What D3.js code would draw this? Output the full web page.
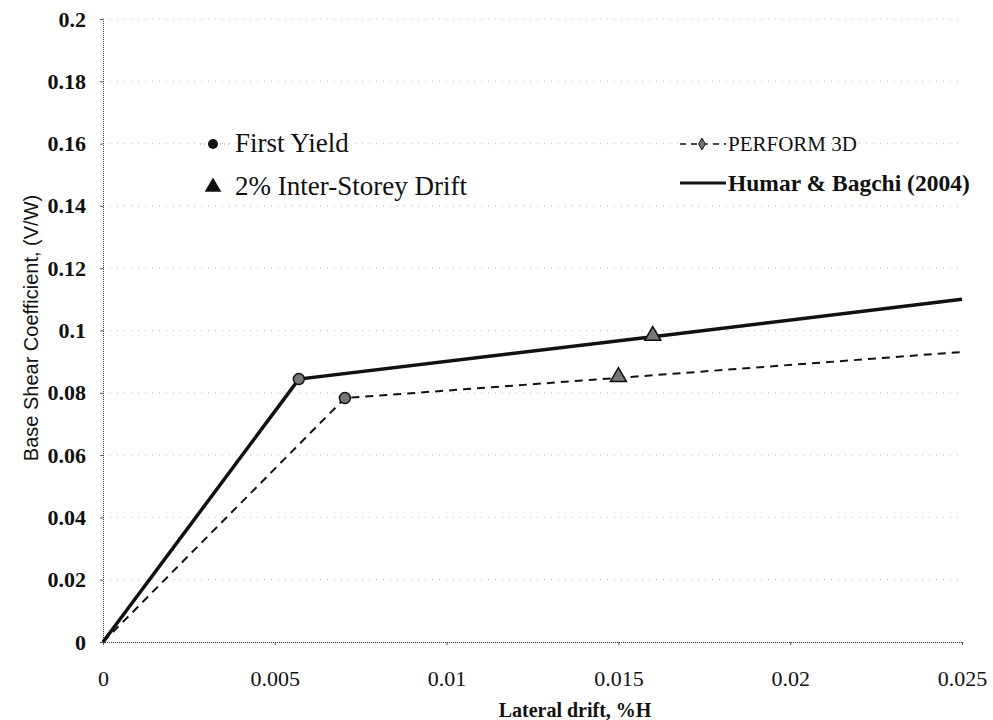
<!DOCTYPE html>
<html>
<head>
<meta charset="utf-8">
<script src="https://cdn.jsdelivr.net/npm/d3@7"></script>
<style>
  body { margin: 0; background: #fff; }
  svg { display: block; }
</style>
</head>
<body>
<script>
var w = 993;
var h = 720;

// axis ticks
var xTicks = [0, 0.005, 0.01, 0.015, 0.02, 0.025];
var yTicks = [0, 0.02, 0.04, 0.06, 0.08, 0.1, 0.12, 0.14, 0.16, 0.18, 0.2];

// Humar & Bagchi (2004) curve
var humarDrift = [0, 0.0057, 0.016, 0.025];
var humarShear = [0, 0.0844, 0.098, 0.110];

// PERFORM 3D curve
var performDrift = [0, 0.00704, 0.015, 0.025];
var performShear = [0, 0.0783, 0.0848, 0.0931];

// first yield points (circles) and 2% drift points (triangles)
var yieldPoints = [[0.0057, 0.0844], [0.00704, 0.0783]];
var driftPoints = [[0.016, 0.098], [0.015, 0.0848]];

const margin = {top: 19, bottom: 78, right: 31, left: 103};

var xScale = d3.scaleLinear()
               .domain([0, 0.025])
               .range([margin.left, w - margin.right]);

var yScale = d3.scaleLinear()
               .domain([0, 0.2])
               .range([h - margin.bottom, margin.top]);

var svg = d3.select("body")
            .append("svg")
            .attr("width", w)
            .attr("height", h);

// light dotted gridlines
svg.append("g")
   .selectAll("line")
   .data(yTicks.slice(1))
   .enter()
   .append("line")
   .attr("x1", margin.left)
   .attr("x2", w - margin.right)
   .attr("y1", function(d) { return yScale(d); })
   .attr("y2", function(d) { return yScale(d); })
   .attr("stroke", "#bbb")
   .attr("stroke-width", 1)
   .attr("stroke-dasharray", "1,6");

// x axis
const xAxis = d3.axisBottom(xScale)
                .tickValues(xTicks)
                .tickSize(3)
                .tickFormat(function(d) { return d === 0 ? "0" : String(+d.toFixed(3)); });

var gx = svg.append("g")
   .attr("transform", "translate(0," + (h - margin.bottom) + ")")
   .call(xAxis);
gx.select(".domain").attr("stroke", "#333").attr("stroke-dasharray", "1,1");
gx.selectAll(".tick line").attr("stroke", "#555");
gx.selectAll("text")
  .attr("font-family", "Liberation Serif")
  .attr("font-size", "22px")
  .attr("fill", "#111")
  .attr("y", 0)
  .attr("dy", null)
  .attr("transform", "translate(0,44)");

// y axis
const yAxis = d3.axisLeft(yScale)
                .tickValues(yTicks)
                .tickSize(3)
                .tickFormat(function(d) { return d === 0 ? "0" : String(+d.toFixed(2)); });

var gy = svg.append("g")
   .attr("transform", "translate(" + margin.left + ",0)")
   .call(yAxis);
gy.select(".domain").attr("stroke", "#333").attr("stroke-dasharray", "1,1");
gy.selectAll(".tick line").attr("stroke", "#555");
gy.selectAll("text")
  .attr("font-family", "Liberation Serif")
  .attr("font-size", "22px")
  .attr("font-weight", "bold")
  .attr("fill", "#111")
  .attr("x", -17);

var line = d3.line()
             .x(function(d) { return xScale(d[0]); })
             .y(function(d) { return yScale(d[1]); });

// PERFORM 3D dashed line
svg.append("path")
   .datum(d3.zip(performDrift, performShear))
   .attr("d", line)
   .attr("fill", "none")
   .attr("stroke", "#111")
   .attr("stroke-width", 2)
   .attr("stroke-dasharray", "8,6");

// Humar & Bagchi solid line
svg.append("path")
   .datum(d3.zip(humarDrift, humarShear))
   .attr("d", line)
   .attr("fill", "none")
   .attr("stroke", "#111")
   .attr("stroke-width", 3.5);

// first yield circles
svg.selectAll(".yield")
   .data(yieldPoints)
   .enter()
   .append("circle")
   .attr("class", "yield")
   .attr("cx", function(d) { return xScale(d[0]); })
   .attr("cy", function(d) { return yScale(d[1]); })
   .attr("r", 5.5)
   .attr("fill", "#777")
   .attr("stroke", "#111")
   .attr("stroke-width", 1.5);

// 2% drift triangles
var tri = d3.symbol().type(d3.symbolTriangle).size(110);
svg.selectAll(".drift")
   .data(driftPoints)
   .enter()
   .append("path")
   .attr("class", "drift")
   .attr("d", tri)
   .attr("transform", function(d) {
     return "translate(" + xScale(d[0]) + "," + (yScale(d[1]) - 1) + ")";
   })
   .attr("fill", "#777")
   .attr("stroke", "#111")
   .attr("stroke-width", 1.5);

// legend on the left: marker meaning
svg.append("line")
   .attr("x1", 200).attr("x2", 232)
   .attr("y1", 144).attr("y2", 144)
   .attr("stroke", "#999")
   .attr("stroke-dasharray", "1,3");
svg.append("circle")
   .attr("cx", 213).attr("cy", 144).attr("r", 5)
   .attr("fill", "#111");
svg.append("text")
   .attr("x", 235).attr("y", 152)
   .attr("font-family", "Liberation Serif")
   .attr("font-size", "27px")
   .attr("fill", "#111")
   .text("First Yield");

svg.append("path")
   .attr("d", d3.symbol().type(d3.symbolTriangle).size(120))
   .attr("transform", "translate(213,187)")
   .attr("fill", "#111");
svg.append("text")
   .attr("x", 235).attr("y", 195)
   .attr("font-family", "Liberation Serif")
   .attr("font-size", "27px")
   .attr("fill", "#111")
   .text("2% Inter-Storey Drift");

// legend on the right: line meaning
svg.append("line")
   .attr("x1", 680).attr("x2", 726)
   .attr("y1", 144).attr("y2", 144)
   .attr("stroke", "#111")
   .attr("stroke-width", 1.5)
   .attr("stroke-dasharray", "6,5");
svg.append("path")
   .attr("d", d3.symbol().type(d3.symbolDiamond).size(40))
   .attr("transform", "translate(702,144)")
   .attr("fill", "#777")
   .attr("stroke", "#111");
svg.append("text")
   .attr("x", 728).attr("y", 151)
   .attr("font-family", "Liberation Serif")
   .attr("font-size", "21px")
   .attr("fill", "#111")
   .text("PERFORM 3D");

svg.append("line")
   .attr("x1", 680).attr("x2", 726)
   .attr("y1", 183).attr("y2", 183)
   .attr("stroke", "#111")
   .attr("stroke-width", 3);
svg.append("text")
   .attr("x", 728).attr("y", 191)
   .attr("font-family", "Liberation Serif")
   .attr("font-size", "23.5px")
   .attr("font-weight", "bold")
   .attr("fill", "#111")
   .text("Humar & Bagchi (2004)");

// axis titles
svg.append("text")
   .attr("x", 575)
   .attr("y", 717)
   .attr("text-anchor", "middle")
   .attr("font-family", "Liberation Serif")
   .attr("font-size", "20px")
   .attr("font-weight", "bold")
   .attr("fill", "#111")
   .text("Lateral drift, %H");

svg.append("text")
   .attr("transform", "rotate(-90)")
   .attr("x", -328)
   .attr("y", 38)
   .attr("text-anchor", "middle")
   .attr("font-family", "Liberation Sans")
   .attr("font-size", "20px")
   .attr("fill", "#111")
   .text("Base Shear Coefficient, (V/W)");
</script>
</body>
</html>
